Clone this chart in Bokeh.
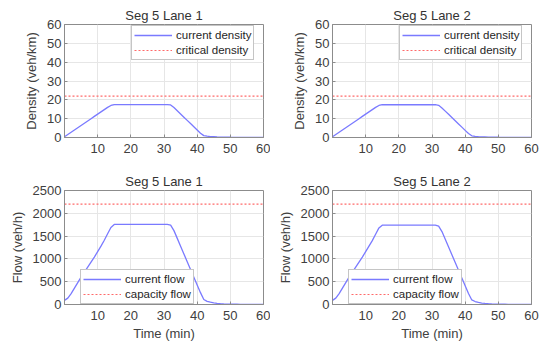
from bokeh.plotting import figure
from bokeh.layouts import gridplot
from bokeh.models import Range1d, FixedTicker, Legend, LegendItem
from bokeh.embed import file_html
from bokeh.resources import INLINE

# ---- data ----
t = list(range(0, 61))

density_lane1 = [0.4, 1.6, 2.8, 4.0, 5.2, 6.4, 7.6, 8.8, 10.0, 11.2,
                 12.4, 13.6, 14.8, 16.0, 17.0, 17.5, 17.5, 17.5, 17.5, 17.5,
                 17.5, 17.5, 17.5, 17.5, 17.5, 17.5, 17.5, 17.5, 17.5, 17.5,
                 17.5, 17.5, 17.3, 15.9, 14.2, 12.5, 10.8, 9.1, 7.4, 5.7,
                 4.0, 2.3, 1.0, 0.7, 0.5, 0.4, 0.3, 0.25, 0.2, 0.15,
                 0.12, 0.1, 0.1, 0.1, 0.1, 0.1, 0.1, 0.1, 0.1, 0.1, 0.1]
density_lane2 = [0.4, 1.6, 2.8, 4.0, 5.2, 6.4, 7.6, 8.8, 10.0, 11.2,
                 12.4, 13.6, 14.8, 16.0, 17.0, 17.4, 17.4, 17.4, 17.4, 17.4,
                 17.4, 17.4, 17.4, 17.4, 17.4, 17.4, 17.4, 17.4, 17.4, 17.4,
                 17.4, 17.4, 17.1, 15.7, 14.0, 12.3, 10.6, 8.9, 7.2, 5.5,
                 3.8, 2.1, 0.9, 0.6, 0.45, 0.35, 0.3, 0.25, 0.2, 0.15,
                 0.12, 0.1, 0.1, 0.1, 0.1, 0.1, 0.1, 0.1, 0.1, 0.1, 0.1]

flow_lane1 = [90, 140, 240, 360, 480, 600, 710, 820, 930, 1040,
              1160, 1280, 1410, 1550, 1690, 1755, 1755, 1755, 1755, 1755,
              1755, 1755, 1755, 1755, 1755, 1755, 1755, 1755, 1755, 1755,
              1755, 1755, 1740, 1620, 1450, 1280, 1110, 940, 770, 600,
              430, 260, 110, 70, 50, 35, 25, 18, 13, 10,
              8, 6, 5, 4, 4, 3, 3, 3, 2, 2, 2]
flow_lane2 = [90, 140, 240, 360, 480, 600, 710, 820, 930, 1040,
              1160, 1280, 1400, 1540, 1680, 1740, 1740, 1740, 1740, 1740,
              1740, 1740, 1740, 1740, 1740, 1740, 1740, 1740, 1740, 1740,
              1740, 1740, 1720, 1600, 1430, 1260, 1090, 920, 750, 580,
              410, 240, 100, 65, 45, 32, 24, 17, 12, 9,
              7, 6, 5, 4, 4, 3, 3, 3, 2, 2, 2]

critical_density = 22
capacity_flow = 2200

titles = ["Seg 5 Lane 1", "Seg 5 Lane 2"]
x_ticks = [10, 20, 30, 40, 50, 60]
density_ticks = [0, 10, 20, 30, 40, 50, 60]
flow_ticks = [0, 500, 1000, 1500, 2000, 2500]

BLUE = "#7a7aff"
RED = "#ff6a6a"
FONT = "Liberation Sans"

FW = 199


def make(title, tt, y, ref, yticks, ylab, xlab, ref_label, cur_label,
         legend_pos, fh, mb_left, mb_right, mb_top, mb_bottom):
    p = figure(frame_width=FW, frame_height=fh, output_backend="svg",
               toolbar_location=None,
               x_range=Range1d(0, 60), y_range=Range1d(yticks[0], yticks[-1]),
               min_border_left=mb_left, min_border_right=mb_right,
               min_border_top=mb_top, min_border_bottom=mb_bottom)
    p.title.text = title
    p.title.align = "center"
    p.title.text_font = FONT
    p.title.text_font_size = "13px"
    p.title.text_font_style = "normal"
    p.title.text_color = "#333333"
    p.title.standoff = 3
    p.title.offset = 0

    r_cur = p.line(tt, y, line_color=BLUE, line_width=1.3)
    r_ref = p.line([tt[0], tt[-1]], [ref, ref], line_color=RED, line_width=1.2,
                   line_dash="2 2")

    for ax in (p.xaxis[0], p.yaxis[0]):
        ax.axis_line_color = "#8c8c8c"
        ax.major_tick_line_color = "#8c8c8c"
        ax.major_tick_in = 3
        ax.major_tick_out = 0
        ax.minor_tick_line_color = None
        ax.major_label_text_font = FONT
        ax.major_label_text_font_size = "13px"
        ax.major_label_text_color = "#404040"
        ax.axis_label_text_font = FONT
        ax.axis_label_text_font_size = "13px"
        ax.axis_label_text_font_style = "normal"
        ax.axis_label_text_color = "#404040"
    p.xaxis.ticker = FixedTicker(ticks=x_ticks)
    p.yaxis.ticker = FixedTicker(ticks=yticks)
    p.xaxis.major_label_standoff = 6
    p.yaxis.major_label_standoff = 3
    p.yaxis.axis_label = ylab
    p.yaxis.axis_label_standoff = 5
    if xlab:
        p.xaxis.axis_label = xlab
        p.xaxis.axis_label_standoff = 3

    p.xgrid.grid_line_color = "#e6e6e6"
    p.ygrid.grid_line_color = "#e6e6e6"
    p.outline_line_color = "#8c8c8c"
    p.outline_line_width = 1

    leg = Legend(items=[LegendItem(label=cur_label, renderers=[r_cur]),
                        LegendItem(label=ref_label, renderers=[r_ref])],
                 location=legend_pos, margin=0, padding=2, spacing=1,
                 glyph_width=38, glyph_height=14, label_height=14,
                 label_standoff=4, label_text_font=FONT,
                 label_text_font_size="11.5px", label_text_color="#262626",
                 border_line_color="#8c8c8c", border_line_width=1,
                 background_fill_color="white", background_fill_alpha=1)
    p.add_layout(leg, "center")
    return p


p1 = make(titles[0], t, density_lane1, critical_density, density_ticks,
          "Density (veh/km)", None, "critical density", "current density",
          (67, 77), 113, 64, 7, 24, 26)
p2 = make(titles[1], t, density_lane2, critical_density, density_ticks,
          "Density (veh/km)", None, "critical density", "current density",
          (67, 77), 113, 62, 9, 24, 26)
p3 = make(titles[0], t, flow_lane1, capacity_flow, flow_ticks,
          "Flow (veh/h)", "Time (min)", "capacity flow", "current flow",
          (16, 0), 114, 64, 7, 27, 38)
p4 = make(titles[1], t, flow_lane2, capacity_flow, flow_ticks,
          "Flow (veh/h)", "Time (min)", "capacity flow", "current flow",
          (16, 0), 114, 62, 9, 27, 38)

grid = gridplot([[p1, p2], [p3, p4]], toolbar_location=None)

open("out.html", "w").write(file_html(grid, INLINE))
